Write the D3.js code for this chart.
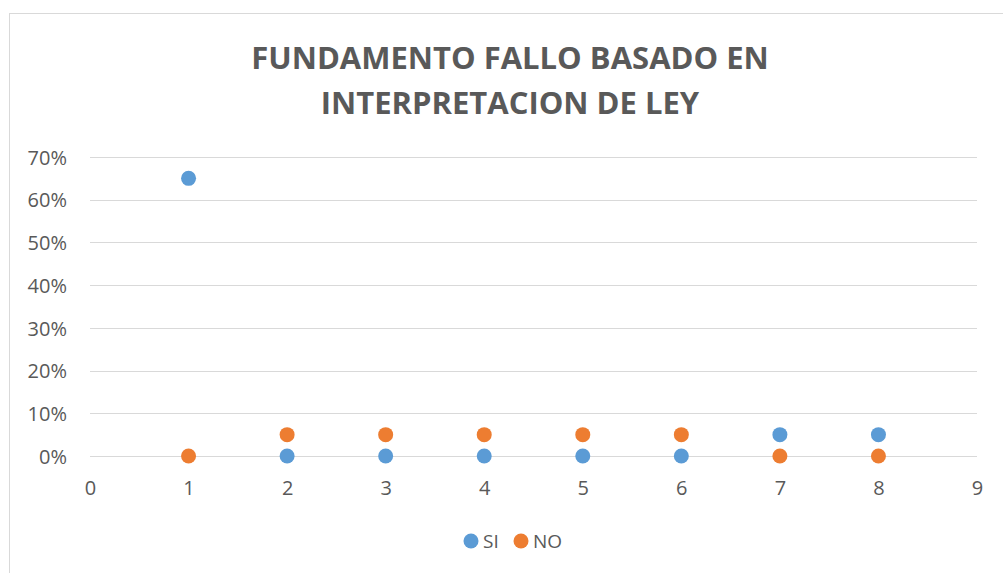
<!DOCTYPE html>
<html>
<head>
<meta charset="utf-8">
<script src="https://cdn.jsdelivr.net/npm/d3@7"></script>
<style>
  body { margin: 0; background: #fff; }
  text { font-family: "Open Sans", sans-serif; }
</style>
</head>
<body>
<script>
const width = 1003, height = 573;

// data
const categories = [1, 2, 3, 4, 5, 6, 7, 8];
const siValues = [0.65, 0, 0, 0, 0, 0, 0.05, 0.05];
const noValues = [0, 0.05, 0.05, 0.05, 0.05, 0.05, 0, 0];
const yTicks = [0, 0.1, 0.2, 0.3, 0.4, 0.5, 0.6, 0.7];
const xTicks = [0, 1, 2, 3, 4, 5, 6, 7, 8, 9];
const titleLines = ['FUNDAMENTO FALLO BASADO EN', 'INTERPRETACION DE LEY'];

const series = [
	{ name: 'SI', values: siValues, color: '#5b9bd5' },
	{ name: 'NO', values: noValues, color: '#ed7d31' }
];

const svg = d3.select('body').append('svg')
	.attr('width', width)
	.attr('height', height);

// chart border (runs off canvas on right/bottom)
svg.append('rect')
	.attr('x', 9.5).attr('y', 13.5)
	.attr('width', 1010).attr('height', 600)
	.attr('fill', '#fff')
	.attr('stroke', '#d9d9d9');

const x = d3.scaleLinear().domain([0, 9]).range([90, 977]);
const y = d3.scaleLinear().domain([0, 0.7]).range([456, 157]);

// gridlines
svg.append('g')
	.selectAll('line')
	.data(yTicks)
	.join('line')
	.attr('x1', x(0)).attr('x2', x(9))
	.attr('y1', d => Math.round(y(d)) + 0.5)
	.attr('y2', d => Math.round(y(d)) + 0.5)
	.attr('stroke', '#d9d9d9')
	.attr('stroke-width', 1);

// y axis labels
const yAxis = d3.axisLeft(y).tickValues(yTicks).tickFormat(d3.format('.0%')).tickSize(0).tickPadding(0);
svg.append('g')
	.attr('transform', 'translate(67,0)')
	.call(yAxis)
	.call(g => g.select('.domain').remove())
	.call(g => g.selectAll('text')
		.attr('dy', '0.36em')
		.attr('fill', '#595959')
		.attr('font-family', '"Open Sans", sans-serif')
		.attr('font-size', 20));

// x axis labels
const xAxis = d3.axisBottom(x).tickValues(xTicks).tickFormat(d3.format('d')).tickSize(0).tickPadding(0);
svg.append('g')
	.attr('transform', 'translate(0,488)')
	.call(xAxis)
	.call(g => g.select('.domain').remove())
	.call(g => g.selectAll('text')
		.attr('dy', '0.36em')
		.attr('fill', '#595959')
		.attr('font-family', '"Open Sans", sans-serif')
		.attr('font-size', 20));

// points
series.forEach(s => {
	svg.append('g')
		.selectAll('circle')
		.data(s.values)
		.join('circle')
		.attr('cx', (d, i) => x(categories[i]))
		.attr('cy', d => y(d))
		.attr('r', 7.5)
		.attr('fill', s.color);
});

// title
svg.append('text')
	.attr('text-anchor', 'middle')
	.attr('fill', '#595959')
	.style('font-size', '31px')
	.style('font-weight', 'bold')
	.selectAll('tspan')
	.data(titleLines)
	.join('tspan')
	.attr('x', 510)
	.attr('y', (d, i) => 69 + i * 45)
	.text(d => d);

// legend
const legend = svg.append('g');
const legendPos = [471, 521];
series.forEach((s, i) => {
	legend.append('circle')
		.attr('cx', legendPos[i])
		.attr('cy', 541)
		.attr('r', 7.5)
		.attr('fill', s.color);
	legend.append('text')
		.attr('x', legendPos[i] + 12)
		.attr('y', 548)
		.attr('fill', '#595959')
		.style('font-size', '19px')
		.text(s.name);
});
</script>
</body>
</html>
